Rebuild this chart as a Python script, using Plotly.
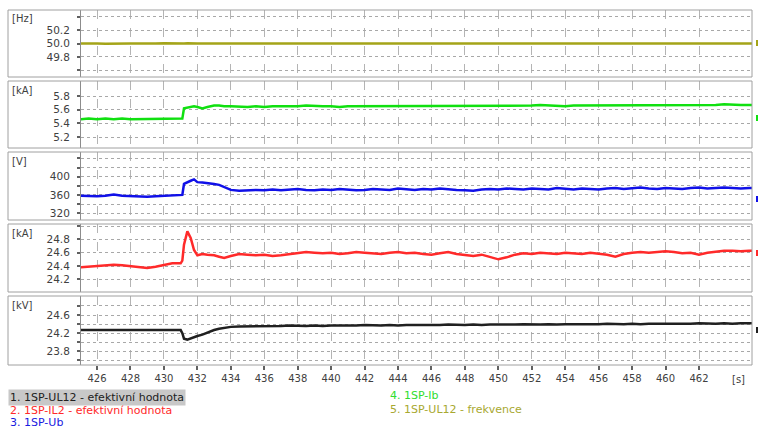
import plotly.graph_objects as go

# ---------------- data ----------------
T = [425.0, 425.5, 426.0, 426.5, 427.0, 427.5, 428.0, 428.5, 429.0, 429.5, 430.0, 430.5, 431.0,
     431.1, 431.2, 431.4, 431.6, 431.8, 432.0, 432.3, 432.6, 433.0, 433.3, 433.6, 434.0, 434.5,
     435.0, 435.5, 436.0, 436.5, 437.0, 437.5, 438.0, 438.5, 439.0, 439.5,
     440.0, 440.5, 441.0, 441.5, 442.0, 442.5, 443.0, 443.5, 444.0, 444.5,
     445.0, 445.5, 446.0, 446.5, 447.0, 447.5, 448.0, 448.5, 449.0, 449.5,
     450.0, 450.5, 451.0, 451.5, 452.0, 452.5, 453.0, 453.5, 454.0, 454.5,
     455.0, 455.5, 456.0, 456.5, 457.0, 457.5, 458.0, 458.5, 459.0, 459.5,
     460.0, 460.5, 461.0, 461.5, 462.0, 462.5, 463.0, 463.5, 464.0, 464.5,
     465.0, 465.5]

F_HZ = [50.000, 50.004, 50.000, 49.996, 50.000, 50.004, 50.000, 50.000, 49.996, 50.000, 50.004, 50.000, 50.000,
        50.000, 50.000, 50.004, 50.000, 49.996, 50.000, 50.000, 50.004, 50.000, 50.000, 49.996, 50.000, 50.000,
        50.000, 50.004, 50.000, 50.000, 49.996, 50.000, 50.004, 50.000, 50.000, 50.000,
        49.996, 50.000, 50.000, 50.004, 50.000, 50.000, 49.996, 50.000, 50.004, 50.000,
        50.000, 50.000, 49.996, 50.000, 50.000, 50.004, 50.000, 50.000, 49.996, 50.000,
        50.000, 50.004, 50.000, 50.000, 49.996, 50.000, 50.000, 50.004, 50.000, 50.000,
        49.996, 50.000, 50.000, 50.004, 50.000, 50.000, 49.996, 50.000, 50.004, 50.000,
        50.000, 50.000, 49.996, 50.000, 50.004, 50.000, 50.000, 50.000, 49.996, 50.000,
        50.000, 50.000]

IB_KA = [5.46, 5.47, 5.46, 5.47, 5.46, 5.47, 5.46, 5.46, 5.47, 5.46, 5.47, 5.46, 5.47,
         5.47, 5.62, 5.63, 5.64, 5.65, 5.64, 5.62, 5.64, 5.66, 5.66, 5.65, 5.65, 5.64,
         5.64, 5.65, 5.64, 5.65, 5.65, 5.64, 5.65, 5.66, 5.65, 5.65,
         5.65, 5.64, 5.65, 5.65, 5.66, 5.65, 5.65, 5.66, 5.65, 5.65,
         5.66, 5.65, 5.66, 5.65, 5.66, 5.66, 5.65, 5.66, 5.66, 5.65,
         5.66, 5.66, 5.65, 5.66, 5.66, 5.67, 5.66, 5.66, 5.65, 5.66,
         5.66, 5.67, 5.66, 5.66, 5.67, 5.66, 5.66, 5.67, 5.66, 5.67,
         5.67, 5.66, 5.67, 5.67, 5.66, 5.67, 5.67, 5.68, 5.67, 5.67,
         5.67, 5.67]

UB_V = [358, 357, 357, 358, 361, 358, 357, 357, 356, 357, 358, 359, 359,
        360, 384, 388, 391, 394, 388, 387, 386, 384, 382, 377, 371, 369,
        370, 371, 370, 372, 370, 371, 373, 371, 370, 372,
        371, 373, 372, 370, 371, 373, 372, 371, 374, 372,
        371, 373, 372, 374, 372, 371, 370, 369, 372, 373,
        372, 374, 373, 372, 374, 373, 372, 375, 373, 372,
        374, 373, 372, 374, 375, 373, 374, 376, 374, 373,
        375, 374, 373, 375, 376, 374, 375, 376, 375, 374,
        375, 375]

IL2_KA = [24.38, 24.39, 24.40, 24.42, 24.42, 24.41, 24.40, 24.39, 24.37, 24.39, 24.42, 24.44, 24.44,
          24.48, 24.72, 24.92, 24.82, 24.64, 24.56, 24.58, 24.57, 24.56, 24.54, 24.52, 24.55, 24.58,
          24.57, 24.56, 24.57, 24.55, 24.56, 24.58, 24.60, 24.61, 24.60, 24.59,
          24.60, 24.58, 24.59, 24.61, 24.60, 24.59, 24.58, 24.60, 24.61, 24.59,
          24.60, 24.58, 24.57, 24.59, 24.61, 24.58, 24.56, 24.55, 24.57, 24.54,
          24.50, 24.53, 24.57, 24.59, 24.58, 24.60, 24.59, 24.58, 24.60, 24.59,
          24.58, 24.60, 24.59, 24.57, 24.54, 24.58, 24.60, 24.61, 24.60, 24.61,
          24.62, 24.61, 24.59, 24.60, 24.57, 24.60, 24.62, 24.63, 24.63, 24.62,
          24.63, 24.63]

UL12_KV = [24.27, 24.27, 24.28, 24.27, 24.27, 24.28, 24.27, 24.27, 24.27, 24.28, 24.27, 24.27, 24.27,
           24.20, 24.08, 24.06, 24.09, 24.12, 24.14, 24.17, 24.22, 24.27, 24.30, 24.32, 24.34, 24.35,
           24.35, 24.36, 24.36, 24.35, 24.36, 24.37, 24.36, 24.36, 24.37, 24.36,
           24.37, 24.37, 24.36, 24.37, 24.38, 24.37, 24.37, 24.38, 24.37, 24.38,
           24.38, 24.37, 24.38, 24.38, 24.39, 24.38, 24.38, 24.39, 24.38, 24.39,
           24.39, 24.38, 24.39, 24.40, 24.39, 24.39, 24.40, 24.39, 24.40, 24.40,
           24.39, 24.40, 24.40, 24.41, 24.40, 24.40, 24.41, 24.40, 24.41, 24.41,
           24.41, 24.40, 24.41, 24.41, 24.42, 24.41, 24.41, 24.42, 24.41, 24.42,
           24.42, 24.42]

X_TICKS = [426, 428, 430, 432, 434, 436, 438, 440, 442, 444, 446, 448, 450, 452, 454, 456, 458, 460, 462]

UNITS = ["[Hz]", "[kA]", "[V]", "[kA]", "[kV]"]
SERIES_NAMES = ["5. 1SP-UL12 - frekvence", "4. 1SP-Ib", "3. 1SP-Ub",
                "2. 1SP-IL2 - efektivní hodnota", "1. 1SP-UL12 - efektivní hodnota"]
SERIES = [F_HZ, IB_KA, UB_V, IL2_KA, UL12_KV]

Y_TICKS = [[49.6, 49.8, 50.0, 50.2, 50.4],
           [5.2, 5.4, 5.6, 5.8],
           [320, 340, 360, 380, 400, 420, 440],
           [24.2, 24.4, 24.6, 24.8, 25.0],
           [23.6, 23.8, 24.0, 24.2, 24.4, 24.6, 24.8]]
Y_TICK_TEXT = [["", "49.8", "50.0", "50.2", ""],
               ["5.2", "5.4", "5.6", "5.8"],
               ["320", "", "360", "", "400", "", ""],
               ["24.2", "24.4", "24.6", "24.8", ""],
               ["", "23.8", "", "24.2", "", "24.6", ""]]
Y_RANGES = [[49.5, 50.5], [5.04, 6.02], [305, 454], [24.01, 25.03], [23.5, 25.02]]

# ---------------- styling / layout ----------------
COLORS = ["#a4a418", "#10e010", "#1010e8", "#ff2a2a", "#202020"]
W, H = 759, 429
PANEL_TOP = [10, 81, 152, 224, 296]
PANEL_BOT = [77, 148, 220, 292, 365]
BOX_L, PLOT_L, BOX_R = 8, 81, 752
X_RANGE = [425.04, 465.17]
FONT = "DejaVu Sans"


def fx(p):
    return p / W


def fy(p):
    return 1 - p / H


fig = go.Figure()
layout = dict(width=W, height=H, autosize=False,
              margin=dict(l=0, r=0, t=0, b=0),
              paper_bgcolor="white", plot_bgcolor="white",
              showlegend=False, font=dict(family=FONT, size=10, color="#404040"))
shapes = []
annotations = []

for i in range(5):
    n = i + 1
    suf = "" if n == 1 else str(n)
    fig.add_trace(go.Scatter(x=T, y=SERIES[i], mode="lines", name=SERIES_NAMES[i],
                             line=dict(color=COLORS[i], width=2.5),
                             xaxis="x" + suf, yaxis="y" + suf, hoverinfo="skip"))
    xa = dict(domain=[fx(PLOT_L), fx(BOX_R)], anchor="y" + suf, range=X_RANGE,
              tickvals=X_TICKS, showgrid=True, gridcolor="#b4b4b4", griddash="dash",
              gridwidth=1, zeroline=False, showline=False,
              showticklabels=(n == 5), ticks="outside" if n == 5 else "",
              ticklen=4, tickwidth=2, tickcolor="#606060",
              tickfont=dict(family=FONT, size=10, color="#404040"))
    if n > 1:
        xa["matches"] = "x"
    ya = dict(domain=[fy(PANEL_BOT[i]), fy(PANEL_TOP[i])], anchor="x" + suf,
              range=Y_RANGES[i], tickvals=Y_TICKS[i], ticktext=Y_TICK_TEXT[i],
              showgrid=True, gridcolor="#a8a8a8", griddash="dot", gridwidth=1,
              zeroline=False, showline=True, linecolor="#8c8c8c", linewidth=1,
              ticks="outside", ticklen=3, tickwidth=2, tickcolor="#606060",
              ticklabelstandoff=5,
              tickfont=dict(family=FONT, size=10.5, color="#404040"))
    layout["xaxis" + suf] = xa
    layout["yaxis" + suf] = ya

    shapes.append(dict(type="rect", xref="paper", yref="paper",
                       x0=fx(BOX_L), x1=fx(BOX_R), y0=fy(PANEL_BOT[i]), y1=fy(PANEL_TOP[i]),
                       line=dict(color="#a0a0a0", width=1), fillcolor="rgba(0,0,0,0)",
                       layer="above"))
    annotations.append(dict(text=UNITS[i], xref="paper", yref="paper",
                            x=fx(10), y=fy(PANEL_TOP[i] + 9), xanchor="left", yanchor="middle",
                            showarrow=False, font=dict(family=FONT, size=10, color="#404040")))

# right-edge value markers (small colored ticks just outside each panel)
MARK_Y = [43, 118, 199, 253, 330]
for i in range(5):
    shapes.append(dict(type="line", xref="paper", yref="paper",
                       x0=fx(757), x1=fx(757), y0=fy(MARK_Y[i] - 3), y1=fy(MARK_Y[i] + 3),
                       line=dict(color=COLORS[i], width=2)))

annotations.append(dict(text="[s]", xref="paper", yref="paper", x=fx(738), y=fy(379),
                        xanchor="center", yanchor="middle", showarrow=False,
                        font=dict(family=FONT, size=10, color="#404040")))

# legend (two columns, as in the reference)
LEG = [("1. 1SP-UL12 - efektivní hodnota", 8, 397, "#202020", "#c8c8c8"),
       ("2. 1SP-IL2 - efektivní hodnota", 8, 410, "#ff2a2a", None),
       ("3. 1SP-Ub", 8, 422, "#1a1ae0", None),
       ("4. 1SP-Ib", 388, 395, "#30dd30", None),
       ("5. 1SP-UL12 - frekvence", 388, 409, "#a8a830", None)]
for txt, x, y, c, bg in LEG:
    a = dict(text=txt, xref="paper", yref="paper", x=fx(x), y=fy(y),
             xanchor="left", yanchor="middle", showarrow=False,
             font=dict(family=FONT, size=11, color=c))
    if bg:
        a["bgcolor"] = bg
        a["borderpad"] = 1
    annotations.append(a)

layout["shapes"] = shapes
layout["annotations"] = annotations
fig.update_layout(**layout)
fig.write_html("out.html", config={"displayModeBar": False, "staticPlot": True},
               post_script="document.body.style.margin='0';document.body.style.overflow='hidden';")
